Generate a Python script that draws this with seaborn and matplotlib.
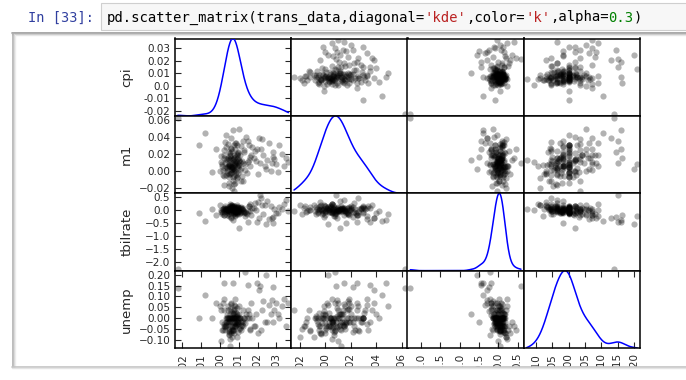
import matplotlib
matplotlib.use("Agg")
import numpy as np
import pandas as pd
import seaborn as sns
import matplotlib.pyplot as plt
from matplotlib.ticker import MultipleLocator, FuncFormatter
from matplotlib.patches import Rectangle
from matplotlib.lines import Line2D

# ---- data (one row per quarter) ----
cpi = [0.0048, 0.0074, 0.0030, 0.0098, 0.0064, 0.0010, 0.0116, 0.0054, 0.0082, 0.0040,
       0.0134, 0.0068, 0.0024, 0.0090, 0.0058, 0.0106, 0.0036, 0.0072, 0.0124, -0.0002,
       0.0076, 0.0050, 0.0094, 0.0064, 0.0020, 0.0152, 0.0046, 0.0086, 0.0056, 0.0110,
       0.0032, 0.0070, 0.0102, 0.0014, 0.0080, 0.0052, 0.0128, 0.0042, 0.0066, 0.0092,
       0.0026, 0.0142, 0.0060, 0.0074, 0.0006, 0.0098, 0.0048, 0.0084, 0.0036, 0.0118,
       0.0062, 0.0088, 0.0018, 0.0072, 0.0108, 0.0044, 0.0078, 0.0054, 0.0130, 0.0028,
       0.0068, 0.0096, 0.0050, 0.0082, 0.0004, 0.0060, 0.0112, 0.0038, 0.0076, 0.0162,
       0.0052, 0.0090, 0.0022, 0.0066, 0.0104, 0.0046, 0.0080, 0.0058, 0.0120, 0.0032,
       0.0070, 0.0094, 0.0012, 0.0084, 0.0056, -0.0042, -0.0080, -0.0110, -0.0020, 0.0100,
       0.0060, 0.0030, 0.0120, 0.0080, 0.0045, 0.0140, 0.0070, 0.0025, 0.0090, 0.0180,
       0.0210, 0.0225, 0.0250, 0.0300, 0.0330, 0.0160, 0.0195, 0.0270, 0.0350, 0.0230,
       0.0170, 0.0285, 0.0205, 0.0315, 0.0150, 0.0240, 0.0260, 0.0190, 0.0340, 0.0220,
       0.0165, 0.0290, 0.0245, 0.0185, 0.0310, 0.0155, 0.0275, 0.0215, 0.0365, 0.0132,
       0.0020, 0.0150, 0.0100, 0.0280, 0.0024, 0.0073, 0.0110, 0.0050, 0.0090,
       0.0062, 0.0078, 0.0055, 0.0088, 0.0070, 0.0045, 0.0096, 0.0066, 0.0082, 0.0058,
       0.0074, 0.0050, 0.0092, 0.0068, 0.0084, 0.0060, 0.0076, 0.0048, 0.0100, 0.0072,
       -0.0225]

m1 = [0.0055, 0.0104, -0.0046, 0.0155, 0.0016, 0.0079, -0.0064, 0.0206, 0.0062, 0.0130,
      0.0002, -0.0117, 0.0249, 0.0096, -0.0032, 0.0181, 0.0033, 0.0308, 0.0087, -0.0007,
      0.0147, -0.0185, 0.0045, 0.0232, -0.0058, 0.0121, 0.0070, -0.0015, 0.0189, 0.0036,
      0.0283, -0.0075, 0.0113, 0.0011, 0.0164, -0.0041, 0.0223, 0.0050, -0.0200, 0.0138,
      0.0090, -0.0024, 0.0266, 0.0022, 0.0172, 0.0067, -0.0080, 0.0325, -0.0001, 0.0118,
      0.0039, 0.0198, -0.0049, 0.0084, 0.0005, 0.0152, -0.0151, 0.0056, 0.0240, 0.0028,
      0.0135, -0.0029, 0.0215, 0.0073, 0.0101, -0.0012, 0.0291, 0.0048, -0.0160, 0.0159,
      0.0063, -0.0069, 0.0186, 0.0019, 0.0107, -0.0036, 0.0257, 0.0041, -0.0125, 0.0141,
      0.0002, 0.0203, 0.0053, -0.0052, 0.0124, -0.0010, 0.0450, 0.0300, 0.0250, 0.0490,
      0.0380, 0.0420, 0.0350, 0.0330, 0.0310, 0.0400, 0.0480, 0.0340, 0.0300, 0.0150,
      0.0380, 0.0370, 0.0120, 0.0080, 0.0200, 0.0050, 0.0250, 0.0000, 0.0150, 0.0180,
      0.0280, 0.0220, -0.0040, 0.0300, 0.0100, 0.0060, 0.0330, 0.0110, 0.0050, 0.0260,
      0.0190, 0.0140, 0.0020, 0.0230, -0.0020, 0.0300, 0.0090, 0.0086, 0.0100, 0.0080,
      0.0150, 0.0350, 0.0120, 0.0160, -0.0170, -0.0245, -0.0120, -0.0140, -0.0090,
      0.0085, 0.0010, 0.0170, 0.0060, 0.0125, -0.0030, 0.0220, 0.0045, 0.0095, 0.0150,
      -0.0060, 0.0075, 0.0190, 0.0030, 0.0110, 0.0260, 0.0000, 0.0135, 0.0065, 0.0180,
      0.0625]

tbilrate = [-0.10, 0.13, 0.00, -0.02, 0.07, -0.14, 0.03, 0.16, -0.05, 0.09,
            -0.08, 0.01, -0.18, 0.06, 0.18, -0.11, 0.02, 0.10, -0.04, 0.21,
            -0.01, -0.16, 0.12, 0.04, -0.07, 0.15, -0.22, 0.00, 0.08, -0.09,
            0.03, 0.11, -0.03, 0.06, -0.12, 0.14, -0.06, 0.02, 0.19, -0.02,
            0.07, -0.15, 0.05, 0.00, -0.08, 0.12, -0.04, 0.09, -0.20, 0.03,
            0.16, -0.01, 0.05, -0.13, 0.10, 0.01, -0.07, 0.22, -0.10, 0.04,
            0.07, -0.05, 0.13, -0.02, 0.00, -0.25, 0.08, -0.09, 0.17, -0.03,
            0.06, -0.14, 0.02, 0.11, -0.06, 0.04, -0.18, 0.09, 0.02, 0.05,
            -0.03, 0.08, -0.06, 0.11, 0.04, 0.05, -0.41, -0.10, -0.20, -0.15,
            -0.30, -0.05, 0.10, -0.22, 0.03, -0.12, -0.40, 0.15, -0.08, 0.10,
            -0.30, 0.20, 0.35, -0.10, 0.05, 0.25, -0.45, 0.15, 0.40, -0.15,
            0.08, -0.25, 0.30, 0.12, -0.05, 0.18, -0.35, 0.00, 0.22, 0.45,
            -0.20, 0.06, -0.55, 0.28, -0.12, 0.14, -0.30, 0.58, -0.05, -0.23,
            -0.20, -0.45, -0.70, -0.50, 0.08, -0.05, 0.12, -0.03, 0.20,
            0.03, -0.04, 0.10, -0.11, 0.06, 0.00, -0.07, 0.14, -0.02, 0.08,
            -0.13, 0.04, 0.11, -0.06, 0.01, -0.09, 0.17, -0.03, 0.05, -0.16,
            -2.27]

unemp = [-0.018, 0.000, -0.036, -0.025, 0.000, -0.054, -0.014, 0.018, -0.042, 0.000,
         -0.021, -0.060, 0.036, 0.047, -0.070, 0.000, -0.018, 0.025, -0.036, 0.054,
         -0.016, -0.048, 0.000, -0.054, -0.025, 0.018, -0.078, 0.000, 0.041, -0.036,
         -0.018, 0.000, -0.050, 0.070, -0.022, -0.036, 0.000, -0.014, -0.089, 0.021,
         -0.040, 0.000, -0.058, 0.062, 0.036, -0.066, 0.000, -0.027, 0.016, -0.033,
         0.000, -0.018, -0.054, 0.000, -0.045, 0.058, -0.020, -0.095, 0.000, -0.036,
         0.018, -0.024, -0.062, 0.000, -0.107, 0.032, -0.018, 0.000, -0.038, -0.051,
         -0.015, 0.012, 0.089, -0.036, 0.000, -0.074, 0.054, 0.000, 0.036, -0.030,
         -0.054, 0.000, -0.018, 0.022, -0.129, 0.000, 0.105, 0.000, 0.070, 0.054,
         0.070, 0.000, -0.018, 0.089, 0.036, 0.018, 0.160, -0.054, 0.000, -0.036,
         0.130, 0.036, -0.018, 0.070, 0.054, -0.054, 0.160, 0.018, -0.036, 0.080,
         0.000, 0.145, -0.070, 0.000, 0.036, -0.018, 0.062, 0.018, 0.089, -0.054,
         0.070, 0.036, 0.200, -0.036, 0.018, 0.000, 0.085, 0.150, 0.070, 0.210,
         0.162, 0.152, 0.018, -0.018, -0.036, 0.036, -0.054, 0.000, -0.089,
         -0.018, -0.036, 0.000, -0.025, -0.054, 0.000, -0.018, -0.042, 0.012, 0.066,
         0.000, -0.060, -0.018, 0.025, -0.036, 0.000, -0.070, -0.018, 0.000, 0.040,
         0.138]

names = ["cpi", "m1", "tbilrate", "unemp"]
tick_steps = [0.01, 0.02, 0.5, 0.05]

prompt_text = "In [33]:"
code_parts = [("pd.scatter_matrix(trans_data,diagonal=", "#000000"), ("'kde'", "#BA2121"),
              (",color=", "#000000"), ("'k'", "#BA2121"), (",alpha=", "#000000"),
              ("0.3", "#008000"), (")", "#000000")]

df = pd.DataFrame({"cpi": cpi, "m1": m1, "tbilrate": tbilrate, "unemp": unemp})

sns.set_style("white")
plt.rcParams["font.family"] = ["DejaVu Sans"]

W, H = 686, 380
fig = plt.figure(figsize=(W / 100, H / 100), dpi=100)
fig.patch.set_facecolor("white")


def fx(px):
    return px / W


def fy(py):
    return 1 - py / H


# pandas-style boundaries (5% range padding)
lims = {}
for c in names:
    v = df[c]
    ext = (v.max() - v.min()) * 0.05 / 2
    lims[c] = (v.min() - ext, v.max() + ext)

L, R, T, B = 175, 640, 38.5, 348
n = len(names)
cw = (R - L) / n
rh = (B - T) / n
TICK_FS = 7.5
LABEL_FS = 9.5


def fmt_cpi(v, p):
    s = str(round(v, 2))
    return "0.0" if s == "-0.0" else s


for i, rn in enumerate(names):
    for j, cn in enumerate(names):
        ax = fig.add_axes([fx(L + j * cw), fy(T + (i + 1) * rh), cw / W, rh / H])
        ax.set_facecolor("white")
        if i == j:
            target = ax.twinx() if i == 0 else ax
            sns.kdeplot(x=df[cn], ax=target, color="#0000ff", lw=1.1, cut=0,
                        gridsize=600)
            yv = target.lines[-1].get_ydata()
            target.set_ylim(yv.min(), yv.max())
            target.set_xlim(lims[cn])
            target.set_xlabel("")
            target.set_ylabel("")
            if i == 0:
                target.tick_params(left=False, right=False, labelleft=False,
                                   labelright=False)
                for sp in target.spines.values():
                    sp.set_visible(False)
                ax.set_ylim(lims[rn])
        else:
            sns.scatterplot(x=df[cn], y=df[rn], ax=ax, color="k", alpha=0.3, s=20,
                            linewidth=0)
            ax.set_ylim(lims[rn])
        ax.set_xlim(lims[cn])
        ax.set_xlabel("")
        ax.set_ylabel("")
        for sp in ax.spines.values():
            sp.set_visible(True)
            sp.set_color("black")
            sp.set_linewidth(1.1)
        # y axis
        if j == 0:
            ax.yaxis.set_major_locator(MultipleLocator(tick_steps[i]))
            if i == 0:
                ax.yaxis.set_major_formatter(FuncFormatter(fmt_cpi))
            ax.tick_params(axis="y", left=True, right=True, direction="in", length=4,
                           width=0.8, labelsize=TICK_FS, labelleft=True, pad=3.5)
            ax.set_ylabel(rn, fontsize=LABEL_FS)
            ax.yaxis.set_label_coords(-0.36, 0.5)
        else:
            ax.tick_params(axis="y", left=False, right=False, labelleft=False)
        # x axis
        if i == n - 1:
            ax.xaxis.set_major_locator(MultipleLocator(tick_steps[j]))
            ax.tick_params(axis="x", bottom=True, top=True, direction="in", length=4,
                           width=0.8, labelsize=TICK_FS, labelbottom=True,
                           labelrotation=90, pad=3.5)
        else:
            ax.tick_params(axis="x", bottom=False, top=False, labelbottom=False)

# ---- notebook chrome ----
fig.text(fx(28), fy(17.5), prompt_text, color="#303F9F", family="DejaVu Sans Mono",
         fontsize=9.8, va="center", ha="left")
fig.add_artist(Rectangle((fx(100.5), fy(30)), fx(700) - fx(100.5), 27 / H,
                         transform=fig.transFigure, facecolor="#f7f7f7",
                         edgecolor="#cfcfcf", lw=0.8, zorder=1))
charw = 8.36
pos = 0
for txt, col in code_parts:
    fig.text(fx(107 + pos * charw), fy(17.5), txt, color=col, family="DejaVu Sans Mono",
             fontsize=10, va="center", ha="left", zorder=2)
    pos += len(txt)

# cover below the output box (clips the rotated x labels as in the reference)
fig.add_artist(Rectangle((0, 0), 1, fy(367), transform=fig.transFigure,
                         facecolor="white", edgecolor="none", zorder=50))


def hline(y, x0, x1, color, lw):
    fig.add_artist(Line2D([fx(x0), fx(x1)], [fy(y), fy(y)], transform=fig.transFigure,
                          color=color, lw=lw, zorder=60))


def vline(x, y0, y1, color, lw):
    fig.add_artist(Line2D([fx(x), fx(x)], [fy(y0), fy(y1)], transform=fig.transFigure,
                          color=color, lw=lw, zorder=60))


hline(32.5, 12, 690, "#9a9a9a", 1.2)
hline(34, 12, 690, "#c8c8c8", 1.0)
hline(35.3, 12, 690, "#e6e6e6", 1.0)
vline(12.5, 32.5, 367, "#b0b0b0", 1.2)
vline(14, 34, 367, "#d6d6d6", 1.0)
vline(15.3, 35, 367, "#ececec", 1.0)
hline(367, 12, 690, "#c4c4c4", 1.2)
hline(368.3, 12, 690, "#e4e4e4", 1.0)

fig.savefig("out.png", dpi=100, facecolor="white")
